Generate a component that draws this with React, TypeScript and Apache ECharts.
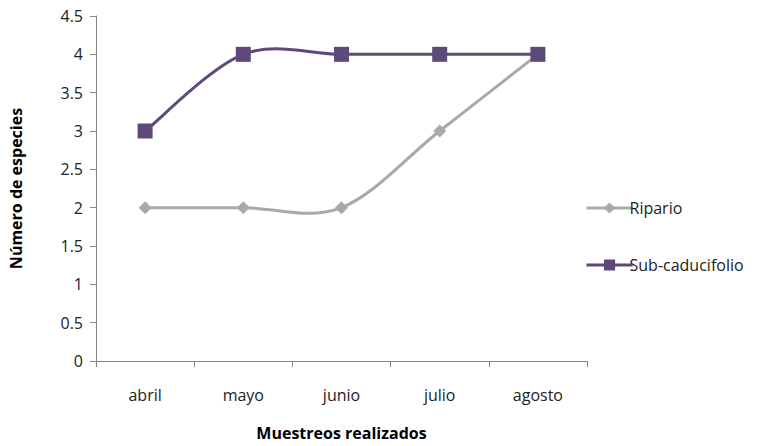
import React, { useEffect, useRef } from "react";
import * as echarts from "echarts";

const months = ["abril", "mayo", "junio", "julio", "agosto"];
const ripario = [2, 2, 2, 3, 4];
const subCaducifolio = [3, 4, 4, 4, 4];
const yTicks = { min: 0, max: 4.5, step: 0.5 };

const FONT = "'Open Sans', sans-serif";
const GRAY = "#A9A9A9";
const PURPLE = "#5F497A";

// Cardinal-spline segments (Excel-style smoothing, which may overshoot),
// drawn through the axes' own coordinate mapping.
function smoothCurve(name: string, values: number[], color: string) {
  return {
    name,
    type: "custom",
    z: 1,
    silent: true,
    data: values.map((v, i) => [i, v]),
    encode: { x: 0, y: 1 },
    renderItem: (params: any, api: any) => {
      const i = params.dataIndex;
      if (i >= values.length - 1) return null;
      const pt = (k: number) => {
        const j = Math.max(0, Math.min(values.length - 1, k));
        return api.coord([j, values[j]]);
      };
      const p0 = pt(i - 1);
      const p1 = pt(i);
      const p2 = pt(i + 1);
      const p3 = pt(i + 2);
      const t = 1 / 6;
      return {
        type: "bezierCurve",
        shape: {
          x1: p1[0],
          y1: p1[1],
          cpx1: p1[0] + (p2[0] - p0[0]) * t,
          cpy1: p1[1] + (p2[1] - p0[1]) * t,
          cpx2: p2[0] - (p3[0] - p1[0]) * t,
          cpy2: p2[1] - (p3[1] - p1[1]) * t,
          x2: p2[0],
          y2: p2[1],
        },
        style: { stroke: color, lineWidth: 3, fill: "none" },
      };
    },
  };
}

export default function App() {
  const ref = useRef<HTMLDivElement>(null);

  useEffect(() => {
    if (!ref.current) return;
    const chart = echarts.init(ref.current, null, { renderer: "svg" });
    chart.setOption({
      animation: false,
      textStyle: { fontFamily: FONT },
      grid: { left: 96, top: 16, right: 184, bottom: 77 },
      legend: {
        orient: "vertical",
        left: 580,
        top: 195,
        itemGap: 41,
        itemWidth: 46,
        itemHeight: 14,
        textStyle: { fontFamily: FONT, fontSize: 16, color: "#222", padding: [0, 0, 0, -8] },
        data: [
          { name: "Ripario", lineStyle: { opacity: 1, width: 3, color: GRAY } },
          { name: "Sub-caducifolio", lineStyle: { opacity: 1, width: 3, color: PURPLE } },
        ],
      },
      xAxis: {
        type: "category",
        data: months,
        boundaryGap: true,
        name: "Muestreos realizados",
        nameLocation: "middle",
        nameGap: 64,
        nameTextStyle: { fontFamily: FONT, fontSize: 16, fontWeight: "bold", color: "#000" },
        axisLine: { lineStyle: { color: "#868686", width: 1 } },
        axisTick: { show: true, length: 6, lineStyle: { color: "#868686" } },
        axisLabel: { fontFamily: FONT, fontSize: 16, color: "#222", margin: 26 },
      },
      yAxis: {
        type: "value",
        min: yTicks.min,
        max: yTicks.max,
        interval: yTicks.step,
        name: "Número de especies",
        nameLocation: "middle",
        nameGap: 72,
        nameTextStyle: { fontFamily: FONT, fontSize: 16, fontWeight: "bold", color: "#000" },
        axisLine: { show: true, lineStyle: { color: "#868686", width: 1 } },
        axisTick: { show: true, length: 6, lineStyle: { color: "#868686" } },
        splitLine: { show: false },
        axisLabel: { fontFamily: FONT, fontSize: 16, color: "#222", margin: 13 },
      },
      series: [
        smoothCurve("Ripario-curva", ripario, GRAY),
        smoothCurve("Sub-caducifolio-curva", subCaducifolio, PURPLE),
        {
          name: "Ripario",
          type: "line",
          z: 3,
          data: ripario,
          symbol: "diamond",
          symbolSize: 13,
          lineStyle: { color: GRAY, width: 3, opacity: 0 },
          itemStyle: { color: GRAY },
        },
        {
          name: "Sub-caducifolio",
          type: "line",
          z: 3,
          data: subCaducifolio,
          symbol: "rect",
          symbolSize: 15,
          lineStyle: { color: PURPLE, width: 3, opacity: 0 },
          itemStyle: { color: PURPLE },
        },
      ],
    });
    return () => chart.dispose();
  }, []);

  return <div ref={ref} style={{ width: 771, height: 446, position: "absolute", left: 0, top: 0 }} />;
}
